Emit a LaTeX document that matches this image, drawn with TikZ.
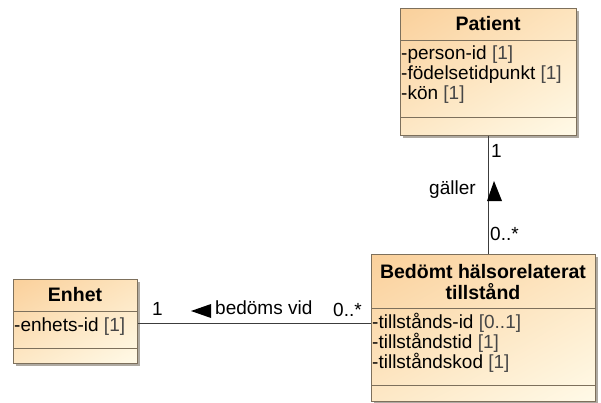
\documentclass[tikz,border=0pt]{standalone}
\usepackage{fontspec}
\setmainfont{Liberation Sans}
\usetikzlibrary{calc,shadows,shadings}
\definecolor{bord}{RGB}{125,112,92}
\definecolor{shadowc}{RGB}{175,170,162}
\definecolor{linec}{RGB}{60,60,60}
\definecolor{cA}{RGB}{250,208,155}
\definecolor{cB}{RGB}{253,228,190}
\definecolor{cC}{RGB}{253,232,198}
\definecolor{cD}{RGB}{255,250,232}
\definecolor{mult}{RGB}{70,70,70}
\tikzset{
  umlbox/.style={draw=bord, line width=0.9pt, inner sep=0pt, anchor=north west,
    upper left=cA, upper right=cB, lower left=cC, lower right=cD,
    drop shadow={fill=shadowc, opacity=1, shadow xshift=3pt, shadow yshift=-3pt}},
  sepline/.style={draw=bord, line width=0.9pt},
  conn/.style={draw=linec, line width=0.9pt},
  umltitle/.style={font=\fontsize{19.5}{21}\selectfont\bfseries, inner sep=0pt, align=center},
  attr/.style={font=\fontsize{19}{20}\selectfont, inner sep=0pt, anchor=mid west},
  lbl/.style={font=\fontsize{19}{20}\selectfont, inner sep=0pt, anchor=mid west},
  tri/.style={fill=black}
}
\newcommand{\mlt}[1]{\textcolor{mult}{#1}}
\begin{document}
\begin{tikzpicture}[x=1pt,y=-1pt]
\useasboundingbox (0,0) rectangle (601,403);
\fill[white] (0,0) rectangle (601,403);

% Patient
\node[umlbox, minimum width=176pt, minimum height=127pt] (patient) at (400,8) {};
\draw[sepline] (patient.west |- 0,40) -- (patient.east |- 0,40);
\draw[sepline] (patient.west |- 0,117) -- (patient.east |- 0,117);
\node[umltitle] (ptitle) at (488,24) {Patient};
\node[attr] (p1) at (401,57) {-person-id \mlt{[1]}};
\node[attr] (p2) at (401,77) {-födelsetidpunkt \mlt{[1]}};
\node[attr] (p3) at (401,97) {-kön \mlt{[1]}};

% Bedomt
\node[umlbox, minimum width=224pt, minimum height=147pt] (bedomt) at (371,254) {};
\draw[sepline] (bedomt.west |- 0,308) -- (bedomt.east |- 0,308);
\draw[sepline] (bedomt.west |- 0,385) -- (bedomt.east |- 0,385);
\node[umltitle] (btitle) at (483,282) {Bedömt hälsorelaterat\\tillstånd};
\node[attr] (b1) at (372,326) {-tillstånds-id \mlt{[0..1]}};
\node[attr] (b2) at (372,346) {-tillståndstid \mlt{[1]}};
\node[attr] (b3) at (372,366) {-tillståndskod \mlt{[1]}};

% Enhet
\node[umlbox, minimum width=124pt, minimum height=84pt] (enhet) at (13,279) {};
\draw[sepline] (enhet.west |- 0,311) -- (enhet.east |- 0,311);
\draw[sepline] (enhet.west |- 0,348) -- (enhet.east |- 0,348);
\node[umltitle] (etitle) at (75,295) {Enhet};
\node[attr] (e1) at (14,329) {-enhets-id \mlt{[1]}};

% connectors
\draw[conn] (patient.south) -- (patient.south |- bedomt.north);
\coordinate (hstart) at ($(enhet.east)+(0,2)$);
\draw[conn] (hstart) -- (hstart -| bedomt.west);

% labels horizontal
\node[lbl] (h1) at (152,313) {1};
\fill[tri] (191,311) -- (211,304) -- (211,318) -- cycle;
\node[lbl] (hv) at (215,312) {bedöms vid};
\node[lbl] (h0) at (333,314) {0..*};

% labels vertical
\node[lbl] (v1) at (491,155) {1};
\node[lbl] (vg) at (429,192) {gäller};
\fill[tri] (494,181) -- (502,201) -- (487,201) -- cycle;
\node[lbl] (v0) at (490,238) {0..*};
\end{tikzpicture}
\end{document}
